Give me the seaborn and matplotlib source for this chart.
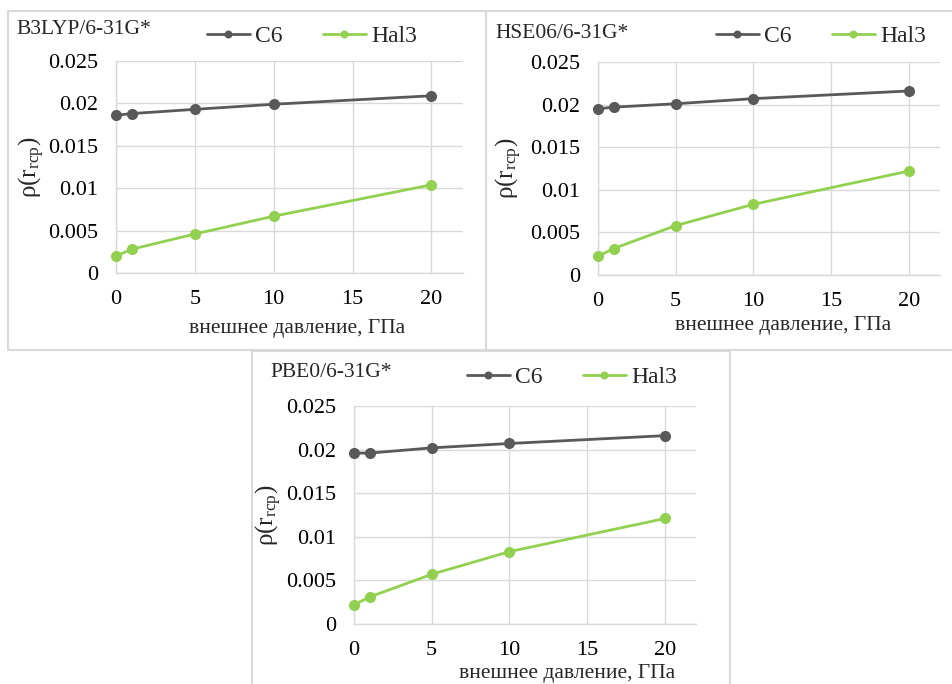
import pandas as pd
import seaborn as sns
import matplotlib
matplotlib.use("Agg")
import matplotlib.pyplot as plt
from matplotlib.patches import Rectangle

# Electron density at the ring critical point vs. external pressure
pressure = [0, 1, 5, 10, 20]
series_names = ["C6", "Hal3"]
methods = ["B3LYP/6-31G*", "HSE06/6-31G*", "PBE0/6-31G*"]

c6_b3lyp = [0.0186, 0.0188, 0.0193, 0.0199, 0.0209]
hal3_b3lyp = [0.0020, 0.0028, 0.0046, 0.0067, 0.0104]
c6_hse06 = [0.0195, 0.0197, 0.0201, 0.0207, 0.0216]
hal3_hse06 = [0.0022, 0.0031, 0.0058, 0.0083, 0.0122]
c6_pbe0 = [0.0196, 0.0196, 0.0202, 0.0207, 0.0216]
hal3_pbe0 = [0.0022, 0.0031, 0.0057, 0.0083, 0.0121]

x_ticks = [0, 5, 10, 15, 20]
y_ticks = [0, 0.005, 0.01, 0.015, 0.02, 0.025]
y_tick_labels = ["0", "0.005", "0.01", "0.015", "0.02", "0.025"]
x_label = "внешнее давление, ГПа"
y_label = r"$\mathrm{\rho(r_{rcp})}$"

sns.set_style("white")
plt.rcParams["font.family"] = ["Liberation Serif", "DejaVu Serif"]
plt.rcParams["mathtext.fontset"] = "custom"
plt.rcParams["mathtext.rm"] = "Liberation Serif"
plt.rcParams["mathtext.it"] = "Liberation Serif:italic"

W, H = 952, 684
fig = plt.figure(figsize=(W / 100, H / 100), dpi=100)

palette = {"C6": "#595959", "Hal3": "#92d050"}
grid_c = "#d9d9d9"

# panel geometry in pixels: axes box, frame box, legend anchor, title anchor, label coords
panels = [
    dict(data=(c6_b3lyp, hal3_b3lyp), ax=(116, 463, 61, 273), frame=(8, 486, 11, 350),
         leg=(207, 36), title=(16, 29), ylab=-0.200, xlab=(0.522, -0.283)),
    dict(data=(c6_hse06, hal3_hse06), ax=(598, 940, 62, 275), frame=(486, 962, 11, 350),
         leg=(716, 36), title=(495, 34), ylab=-0.215, xlab=(0.541, -0.258)),
    dict(data=(c6_pbe0, hal3_pbe0), ax=(354, 696, 406, 624), frame=(252, 730, 351, 700),
         leg=(467, 377), title=(270, 373), ylab=-0.204, xlab=(0.624, -0.248)),
]

def fx(px):
    return px / W

def fy(py):
    return 1 - py / H

for method, p in zip(methods, panels):
    x0, x1, y0, y1 = p["frame"]
    fig.patches.append(Rectangle((fx(x0), fy(y1)), fx(x1 - x0), (y1 - y0) / H,
                                 transform=fig.transFigure, fill=False,
                                 edgecolor=grid_c, linewidth=1.5, zorder=0))

    l, r, t, b = p["ax"]
    ax = fig.add_axes([fx(l), fy(b), (r - l) / W, (b - t) / H])

    c6, hal3 = p["data"]
    df = pd.DataFrame({
        "pressure": pressure * 2,
        "rho": c6 + hal3,
        "series": ["C6"] * len(pressure) + ["Hal3"] * len(pressure),
    })
    sns.lineplot(data=df, x="pressure", y="rho", hue="series", hue_order=series_names,
                 palette=palette, marker="o", markersize=8, markeredgewidth=0,
                 linewidth=2, ax=ax, legend=True, zorder=3, clip_on=False)

    ax.set_xlim(0, 22)
    ax.set_ylim(0, 0.025)
    ax.set_xticks(x_ticks)
    ax.set_xticklabels([str(v) for v in x_ticks])
    ax.set_yticks(y_ticks)
    ax.set_yticklabels(y_tick_labels)
    ax.tick_params(axis="both", length=0, labelsize=16, colors="black")
    ax.tick_params(axis="x", pad=12)
    ax.tick_params(axis="y", pad=13)
    ax.grid(True, color=grid_c, linewidth=1)
    ax.set_axisbelow(True)
    for side in ["top", "right"]:
        ax.spines[side].set_visible(False)
    for side in ["left", "bottom"]:
        ax.spines[side].set_color(grid_c)
        ax.spines[side].set_linewidth(1)

    ax.set_ylabel(y_label, fontsize=18)
    ax.yaxis.set_label_coords(p["ylab"], 0.5)
    ax.set_xlabel(x_label, fontsize=15.5)
    ax.xaxis.label.set_va("baseline")
    ax.xaxis.set_label_coords(*p["xlab"])

    handles, labels = ax.get_legend_handles_labels()
    lx, ly = p["leg"]
    ax.legend(handles, labels, loc="center left", bbox_to_anchor=(fx(lx), fy(ly)),
              bbox_transform=fig.transFigure, ncol=2, frameon=False, fontsize=17,
              handlelength=1.8, handletextpad=0.25, columnspacing=1.7,
              borderpad=0, borderaxespad=0, markerscale=0.72)

    tx, ty = p["title"]
    fig.text(fx(tx), fy(ty), method, ha="left", va="center", fontsize=15.5)

fig.savefig("out.png", dpi=100)
